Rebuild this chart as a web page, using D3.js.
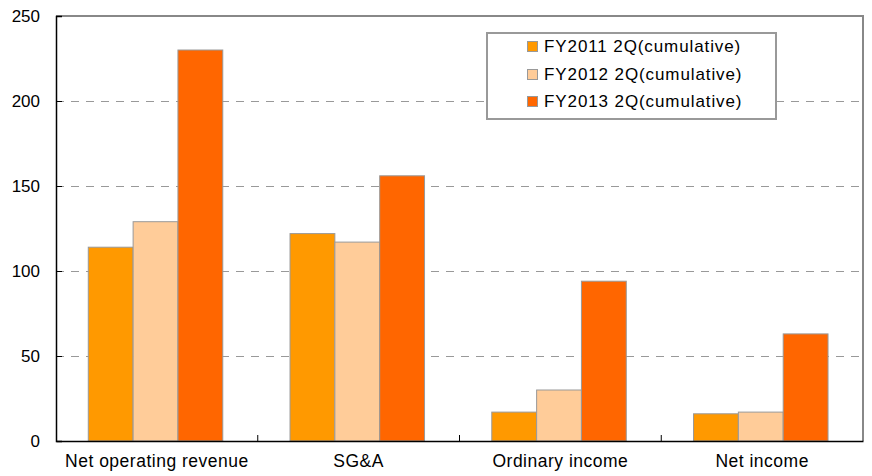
<!DOCTYPE html>
<html>
<head>
<meta charset="utf-8">
<script src="https://cdn.jsdelivr.net/npm/d3@7"></script>
<style>
  body { margin: 0; background: #fff; }
  text { font-family: "Liberation Sans", Arial, sans-serif; fill: #000; }
</style>
</head>
<body>
<div id="wrapper"></div>
<script>
const categories = ["Net operating revenue", "SG&A", "Ordinary income", "Net income"];
const seriesNames = ["FY2011 2Q(cumulative)", "FY2012 2Q(cumulative)", "FY2013 2Q(cumulative)"];
const fy2011 = [114, 122, 17, 16];
const fy2012 = [129, 117, 30, 17];
const fy2013 = [230, 156, 94, 63];
const yTicks = [0, 50, 100, 150, 200, 250];
const colors = ["#ff9900", "#ffcc99", "#ff6600"];

const series = [fy2011, fy2012, fy2013];

const dimension = {
  width: 872,
  height: 476,
  margin: { top: 16, right: 9, bottom: 35, left: 56 }
};
dimension.boundedWidth = dimension.width - dimension.margin.left - dimension.margin.right;
dimension.boundedHeight = dimension.height - dimension.margin.top - dimension.margin.bottom;

const svg = d3.select("#wrapper")
  .append("svg")
  .attr("width", dimension.width)
  .attr("height", dimension.height);

const bounds = svg.append("g")
  .attr("transform", `translate(${dimension.margin.left},${dimension.margin.top})`);

const xScale = d3.scaleBand()
  .domain(categories)
  .range([0, dimension.boundedWidth]);

const inner = d3.scaleBand()
  .domain(d3.range(series.length))
  .range([0, xScale.bandwidth()])
  .paddingOuter(0.75)
  .paddingInner(0)
  .align(0.48);

const yScale = d3.scaleLinear()
  .domain([0, 250])
  .range([dimension.boundedHeight, 0]);

// frame top/right
bounds.append("path")
  .attr("d", `M0,0H${dimension.boundedWidth}V${dimension.boundedHeight}`)
  .attr("fill", "none")
  .attr("stroke", "#888")
  .attr("stroke-width", 2);

// gridlines
bounds.selectAll("line.grid")
  .data(yTicks.filter(d => d > 0 && d < 250))
  .enter()
  .append("line")
  .attr("class", "grid")
  .attr("x1", 0)
  .attr("x2", dimension.boundedWidth)
  .attr("y1", d => Math.round(yScale(d)) + 0.5)
  .attr("y2", d => Math.round(yScale(d)) + 0.5)
  .attr("stroke", "#999")
  .attr("stroke-dasharray", "8,7");

// bars
const rows = categories.map((c, i) => ({ cat: c, values: series.map(s => s[i]) }));
const groups = bounds.selectAll("g.group")
  .data(rows)
  .enter()
  .append("g")
  .attr("class", "group")
  .attr("transform", d => `translate(${xScale(d.cat)},0)`);

groups.selectAll("rect")
  .data(d => d.values.map((v, k) => ({ v, k })))
  .enter()
  .append("rect")
  .attr("x", d => inner(d.k))
  .attr("width", inner.bandwidth())
  .attr("y", d => yScale(d.v))
  .attr("height", d => yScale(0) - yScale(d.v))
  .attr("fill", d => colors[d.k])
  .attr("stroke", "#999")
  .attr("stroke-width", 1);

// y axis
const yAxis = d3.axisLeft(yScale)
  .tickValues(yTicks)
  .tickSize(-6)
  .tickPadding(16);
const yAxisG = bounds.append("g").call(yAxis);
yAxisG.select(".domain").attr("stroke", "#000").attr("stroke-width", 1.5);
yAxisG.selectAll(".tick line").attr("stroke", "#000");
yAxisG.selectAll(".tick text")
  .style("font-size", "17px")
  .attr("font-family", "Liberation Sans, Arial, sans-serif");

// x axis
const xAxisG = bounds.append("g")
  .attr("transform", `translate(0,${dimension.boundedHeight})`)
  .call(d3.axisBottom(xScale).tickSize(0).tickPadding(14));
xAxisG.select(".domain").attr("stroke", "#000").attr("stroke-width", 1.5);
xAxisG.selectAll(".tick text")
  .style("font-size", "17.5px")
  .style("letter-spacing", "0.5px")
  .attr("font-family", "Liberation Sans, Arial, sans-serif");

// category boundary ticks
bounds.selectAll("line.xtick")
  .data(categories.slice(1))
  .enter()
  .append("line")
  .attr("x1", d => xScale(d))
  .attr("x2", d => xScale(d))
  .attr("y1", dimension.boundedHeight)
  .attr("y2", dimension.boundedHeight - 6)
  .attr("stroke", "#000");

// legend
const legend = svg.append("g")
  .attr("transform", "translate(487,33)");
legend.append("rect")
  .attr("width", 289)
  .attr("height", 86)
  .attr("fill", "#fff")
  .attr("stroke", "#999")
  .attr("stroke-width", 2);
const item = legend.selectAll("g.item")
  .data(seriesNames)
  .enter()
  .append("g")
  .attr("class", "item")
  .attr("transform", (d, i) => `translate(40,${[13, 41, 68][i]})`);
item.append("rect")
  .attr("x", 0.5)
  .attr("y", -4.5)
  .attr("width", 10)
  .attr("height", 10)
  .attr("fill", (d, i) => colors[i])
  .attr("stroke", "#999");
item.append("text")
  .attr("x", 17)
  .attr("y", 6)
  .style("font-size", "17px")
  .style("letter-spacing", "0.9px")
  .text(d => d);
</script>
</body>
</html>
